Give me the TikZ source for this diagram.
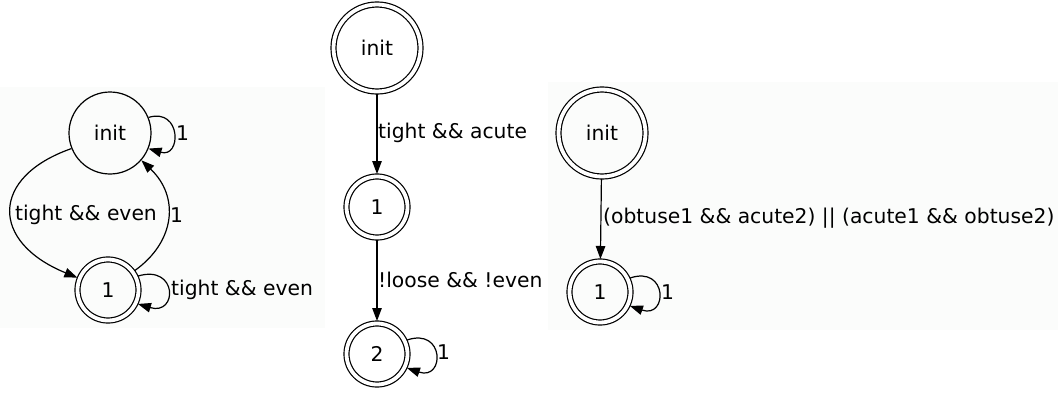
\documentclass[tikz,border=0pt]{standalone}
\usepackage{fontspec}
\setmainfont{DejaVu Sans}
\usetikzlibrary{arrows.meta}
\definecolor{panelbg}{RGB}{251,252,251}
\begin{document}
\begin{tikzpicture}[x=1pt,y=1pt,
  every node/.style={font=\fontsize{20.3}{24}\selectfont},
  state/.style={circle,draw,line width=1.2pt,inner sep=0pt,minimum size=82pt},
  accept/.style={circle,draw,line width=1.2pt,double,double distance=3.8pt,inner sep=0pt,outer sep=2.5pt},
  small/.style={minimum size=61pt},
  big/.style={minimum size=87pt},
  edge/.style={draw,line width=1.2pt,-{Triangle[length=13pt,width=9.5pt]}},
  lbl/.style={inner sep=0pt,anchor=west},
  panel/.style={fill=panelbg,draw=none}]
\useasboundingbox (0,0) rectangle (1058,392);
\fill[panel] (0,64) rectangle (325,305);
\fill[panel] (548,62) rectangle (1058,310);

% left automaton
\node[state] (Linit) at (110,259) {init};
\node[accept,small] (Lone) at (108,102) {1};
\draw[edge] (Linit.22) .. controls +(33,10) and +(33,-10) .. (Linit.-22);
\node[lbl] (Llbl1) at (176,259) {1};
\draw[edge] (Linit.202) .. controls (-10,215) and (-10,150) .. (Lone.158);
\node (Llbl2) at (86,177) {tight \&\& even};
\draw[edge] (Lone.36) .. controls (175,150) and (180,195) .. (Linit.-41);
\node[lbl] (Llbl3) at (170,177) {1};
\draw[edge] (Lone.25) .. controls +(40,12) and +(40,-12) .. (Lone.-25);
\node[lbl] (Llbl4) at (171,102) {tight \&\& even};

% middle automaton
\node[accept,big] (Minit) at (377,344) {init};
\node[accept,small] (Mone) at (377,185) {1};
\node[accept,small] (Mtwo) at (377,38) {2};
\draw[edge] (Minit) -- (Mone);
\node[lbl] (Mlbl1) at (378,259) {tight \&\& acute};
\draw[edge] (Mone) -- (Mtwo);
\node[lbl] (Mlbl2) at (378,112) {!loose \&\& !even};
\draw[edge] (Mtwo.25) .. controls +(38,13) and +(38,-13) .. (Mtwo.-25);
\node[lbl] (Mlbl3) at (437,40) {1};

% right automaton
\node[accept,big] (Rinit) at (602,259) {init};
\node[accept,small] (Rone) at (600,100) {1};
\draw[edge] (Rinit) -- (Rone);
\node[lbl] (Rlbl1) at (603,174) {(obtuse1 \&\& acute2) || (acute1 \&\& obtuse2)};
\draw[edge] (Rone.25) .. controls +(38,13) and +(38,-13) .. (Rone.-25);
\node[lbl] (Rlbl2) at (661,100) {1};
\end{tikzpicture}
\end{document}
